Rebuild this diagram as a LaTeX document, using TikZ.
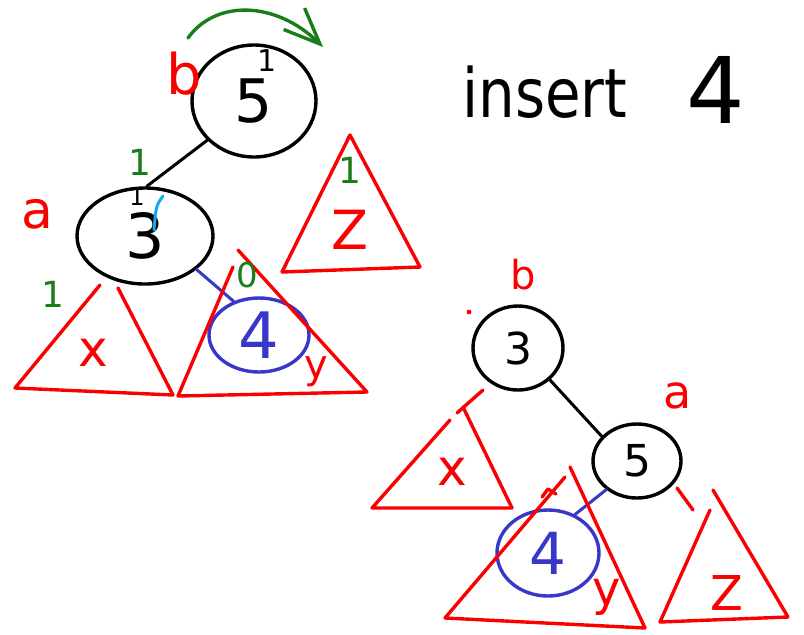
\documentclass[tikz,border=0pt]{standalone}
\usepackage{fontspec}
\setmainfont{DejaVu Sans}
\usetikzlibrary{arrows.meta,shapes.geometric}

\definecolor{penred}{RGB}{250,0,0}
\definecolor{pengreen}{RGB}{25,125,25}
\definecolor{penblue}{RGB}{55,55,200}
\definecolor{pencyan}{RGB}{20,170,235}

\newcommand{\fs}[1]{\fontsize{#1}{#1}\selectfont}

\begin{document}
\begin{tikzpicture}[
  x=0.5pt, y=-0.5pt,
  line cap=round, line join=round,
  key/.style={ellipse, draw=black, line width=1.7pt, inner sep=0pt},
  newkey/.style={key, draw=penblue, text=penblue},
  link/.style={draw=black, line width=1.5pt},
  sub/.style={draw=penred, line width=1.7pt},
  tag/.style={text=penred, inner sep=0pt},
  bal/.style={text=pengreen, inner sep=0pt, font=\fs{18}},
  turn/.style={draw=pengreen, line width=1.7pt,
               -{Straight Barb[length=18pt,width=15pt,line width=1.7pt]}},
]
\useasboundingbox (0,0) rectangle (804,634);

% #1 top of left side, #2 bottom left, #3 bottom right, #4 top of right side
\newcommand{\subtree}[4]{\draw[sub] #1 -- #2 -- #3 -- #4;}

% before the rotation
\node[key, minimum width=62pt, minimum height=56pt, font=\fs{30}] (lfive) at (254,101) {5};
\node[key, minimum width=68pt, minimum height=48pt, font=\fs{31}] (lthree) at (145,236) {3};
\node[newkey, minimum width=50pt, minimum height=37pt, font=\fs{32}] (lfour) at (259,335) {4};
\node[font=\fs{15}, inner sep=0pt] at (267,61) {1};
\node[font=\fs{12}, inner sep=0pt] at (137,197) {1};
\draw[link] (lfive.220) -- (lthree.88);
\draw[penblue, line width=1.5pt] (lthree.-33) -- (lfour.127);
\draw[pencyan, line width=1.5pt] (163,196) .. controls (156,206) .. (154,230);

\coordinate (rotA) at (188,38);
\coordinate (rotB) at (323,47);
\draw[turn] (rotA) .. controls (215,0) and (275,0) .. (rotB);

\subtree{(100,285)}{(15,388)}{(173,395)}{(118,288)}
\subtree{(233,267)}{(178,396)}{(367,392)}{(238,250)}
\subtree{(350,135)}{(282,272)}{(420,267)}{(350,135)}

\node[tag, font=\fs{28}] at (184,74) {b};
\node[tag, font=\fs{26}] at (37,214) {a};
\node[tag, font=\fs{25}] at (93,353) {x};
\node[tag, font=\fs{20}] at (316,372) {y};
\node[tag, font=\fs{27}] at (350,230) {Z};
\node[bal] at (140,162) {1};
\node[bal] at (350,170) {1};
\node[bal] at (53,294) {1};
\node[bal, font=\fs{17}] at (247,275) {0};

\node[font=\fs{34}, xscale=0.85] (cmd) at (545,92) {insert};
\node[font=\fs{46}] (arg) at (716,90) {4};

% after the rotation
\node[key, minimum width=45pt, minimum height=42pt, font=\fs{22}] (rthree) at (518,348) {3};
\node[key, minimum width=44pt, minimum height=37pt, font=\fs{22}] (rfive) at (637,461) {5};
\node[newkey, minimum width=51pt, minimum height=43pt, font=\fs{29}] (rfour) at (548,553) {4};
\draw[link] (rthree.-45) -- (rfive.145);
\draw[penblue, line width=1.5pt] (rfive.223) -- (rfour.55);

\draw[sub] (483,390) -- (457,413);
\draw[sub] (677,488) -- (693,510);
\draw[sub] (542,497) -- (548,489) -- (556,494);
\fill[penred] (469,312) circle (1.2pt);

\subtree{(450,420)}{(372,508)}{(512,508)}{(463,407)}
\subtree{(565,477)}{(445,618)}{(645,628)}{(570,467)}
\subtree{(710,510)}{(660,622)}{(788,617)}{(713,490)}

\node[tag, font=\fs{20}] at (523,275) {b};
\node[tag, font=\fs{23}] at (678,396) {a};
\node[tag, font=\fs{25}] at (452,472) {x};
\node[tag, font=\fs{24}] at (607,597) {y};
\node[tag, font=\fs{24}] at (727,593) {Z};

\end{tikzpicture}
\end{document}
